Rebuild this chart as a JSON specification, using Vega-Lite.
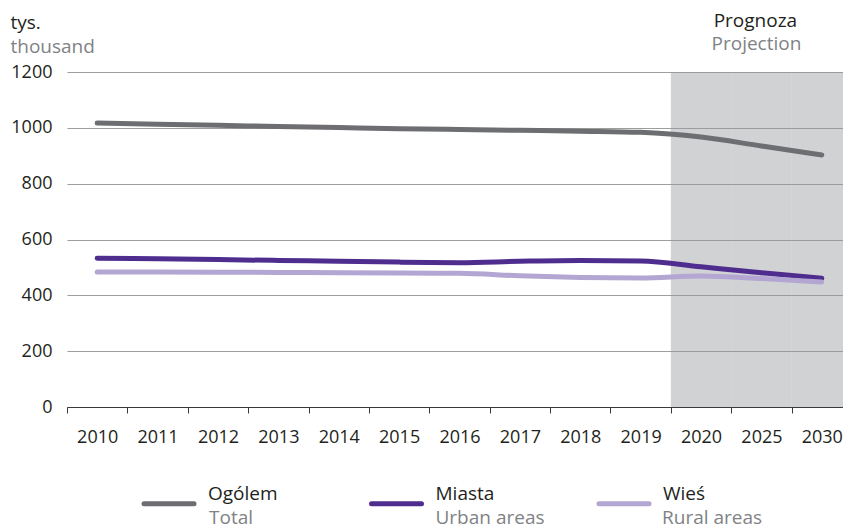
{
  "$schema": "https://vega.github.io/schema/vega-lite/v6.json",
  "width": 785,
  "height": 335,
  "autosize": {"type": "none"},
  "padding": {"left": 67, "top": 72, "right": -9, "bottom": 119},
  "background": "#ffffff",
  "config": {
    "view": {"stroke": null},
    "font": "Open Sans",
    "axisX": {
      "tickBand": "extent",
      "domainColor": "#3a3a3a",
      "tickColor": "#3a3a3a",
      "tickSize": 6,
      "labelPadding": 15,
      "labelFontSize": 18,
      "labelColor": "#231f20",
      "labelAngle": 0,
      "grid": false,
      "title": null,
      "zindex": 1
    }
  },
  "data": {
    "values": [
      {"year": "2010", "series": "Ogólem", "seriesEn": "Total", "value": 1017},
      {"year": "2011", "series": "Ogólem", "seriesEn": "Total", "value": 1013},
      {"year": "2012", "series": "Ogólem", "seriesEn": "Total", "value": 1009},
      {"year": "2013", "series": "Ogólem", "seriesEn": "Total", "value": 1005},
      {"year": "2014", "series": "Ogólem", "seriesEn": "Total", "value": 1001},
      {"year": "2015", "series": "Ogólem", "seriesEn": "Total", "value": 997},
      {"year": "2016", "series": "Ogólem", "seriesEn": "Total", "value": 994},
      {"year": "2017", "series": "Ogólem", "seriesEn": "Total", "value": 991},
      {"year": "2018", "series": "Ogólem", "seriesEn": "Total", "value": 988},
      {"year": "2019", "series": "Ogólem", "seriesEn": "Total", "value": 984},
      {"year": "2020", "series": "Ogólem", "seriesEn": "Total", "value": 967},
      {"year": "2025", "series": "Ogólem", "seriesEn": "Total", "value": 935},
      {"year": "2030", "series": "Ogólem", "seriesEn": "Total", "value": 903},
      {"year": "2010", "series": "Miasta", "seriesEn": "Urban areas", "value": 533},
      {"year": "2011", "series": "Miasta", "seriesEn": "Urban areas", "value": 531},
      {"year": "2012", "series": "Miasta", "seriesEn": "Urban areas", "value": 528},
      {"year": "2013", "series": "Miasta", "seriesEn": "Urban areas", "value": 525},
      {"year": "2014", "series": "Miasta", "seriesEn": "Urban areas", "value": 522},
      {"year": "2015", "series": "Miasta", "seriesEn": "Urban areas", "value": 519},
      {"year": "2016", "series": "Miasta", "seriesEn": "Urban areas", "value": 517},
      {"year": "2017", "series": "Miasta", "seriesEn": "Urban areas", "value": 522},
      {"year": "2018", "series": "Miasta", "seriesEn": "Urban areas", "value": 525},
      {"year": "2019", "series": "Miasta", "seriesEn": "Urban areas", "value": 523},
      {"year": "2020", "series": "Miasta", "seriesEn": "Urban areas", "value": 502},
      {"year": "2025", "series": "Miasta", "seriesEn": "Urban areas", "value": 481},
      {"year": "2030", "series": "Miasta", "seriesEn": "Urban areas", "value": 461},
      {"year": "2010", "series": "Wieś", "seriesEn": "Rural areas", "value": 484},
      {"year": "2011", "series": "Wieś", "seriesEn": "Rural areas", "value": 484},
      {"year": "2012", "series": "Wieś", "seriesEn": "Rural areas", "value": 483},
      {"year": "2013", "series": "Wieś", "seriesEn": "Rural areas", "value": 482},
      {"year": "2014", "series": "Wieś", "seriesEn": "Rural areas", "value": 481},
      {"year": "2015", "series": "Wieś", "seriesEn": "Rural areas", "value": 480},
      {"year": "2016", "series": "Wieś", "seriesEn": "Rural areas", "value": 479},
      {"year": "2017", "series": "Wieś", "seriesEn": "Rural areas", "value": 470},
      {"year": "2018", "series": "Wieś", "seriesEn": "Rural areas", "value": 464},
      {"year": "2019", "series": "Wieś", "seriesEn": "Rural areas", "value": 462},
      {"year": "2020", "series": "Wieś", "seriesEn": "Rural areas", "value": 469},
      {"year": "2025", "series": "Wieś", "seriesEn": "Rural areas", "value": 460},
      {"year": "2030", "series": "Wieś", "seriesEn": "Rural areas", "value": 448}
    ]
  },
  "layer": [
    {
      "transform": [
        {"filter": "datum.series === 'Ogólem' && (datum.year === '2020' || datum.year === '2025' || datum.year === '2030')"}
      ],
      "mark": {"type": "rect", "fill": "#999b9f", "opacity": 0.45},
      "encoding": {
        "x": {
          "field": "year",
          "type": "ordinal",
          "scale": {"type": "band", "paddingInner": 0, "paddingOuter": 0},
          "axis": {"title": null}
        },
        "y": {
          "datum": 1200,
          "type": "quantitative",
          "scale": {"domain": [0, 1200], "nice": false},
          "axis": {
            "orient": "left",
            "title": "thousand",
            "titleColor": "#808285",
            "titleAngle": 0,
            "titleAlign": "left",
            "titleBaseline": "alphabetic",
            "titleFontSize": 19,
            "titleFontWeight": "normal",
            "titleX": -57,
            "titleY": -20,
            "grid": false,
            "labels": false,
            "ticks": false,
            "domain": false
          }
        },
        "y2": {"datum": 0}
      }
    },
    {
      "mark": {"type": "line", "strokeWidth": 5, "strokeCap": "round", "strokeJoin": "round", "interpolate": "monotone"},
      "encoding": {
        "x": {"field": "year", "type": "ordinal"},
        "y": {
          "field": "value",
          "type": "quantitative",
          "axis": {
            "orient": "left",
            "title": "tys.",
            "titleColor": "#231f20",
            "titleAngle": 0,
            "titleAlign": "left",
            "titleBaseline": "alphabetic",
            "titleFontSize": 19,
            "titleFontWeight": "normal",
            "titleX": -57,
            "titleY": -44,
            "grid": true,
            "gridColor": "#9d9d9d",
            "gridWidth": 1,
            "domain": false,
            "ticks": false,
            "labels": true,
            "labelPadding": 15,
            "labelFontSize": 18,
            "labelColor": "#231f20",
            "values": [0, 200, 400, 600, 800, 1000, 1200],
            "format": "d"
          }
        },
        "color": {
          "field": "series",
          "type": "nominal",
          "scale": {"domain": ["Ogólem", "Miasta", "Wieś"], "range": ["#6d6e71", "#4f2d8f", "#b3a6d3"]},
          "legend": {
            "orient": "none",
            "legendX": 74.5,
            "legendY": 404,
            "direction": "horizontal",
            "columns": 3,
            "gridAlign": "all",
            "columnPadding": 82.5,
            "padding": 0,
            "title": null,
            "symbolType": "stroke",
            "symbolSize": 2500,
            "symbolStrokeWidth": 5,
            "labelOffset": 11.5,
            "labelFontSize": 19,
            "labelColor": "#231f20",
            "labelBaseline": "bottom",
            "encode": {"symbols": {"update": {"strokeCap": {"value": "round"}}}}
          }
        },
        "strokeWidth": {
          "field": "seriesEn",
          "type": "nominal",
          "scale": {"domain": ["Total", "Urban areas", "Rural areas"], "range": [5, 5, 5]},
          "legend": {
            "orient": "none",
            "legendX": 75.5,
            "legendY": 424,
            "direction": "horizontal",
            "columns": 3,
            "gridAlign": "all",
            "columnPadding": 50.5,
            "padding": 0,
            "title": null,
            "symbolType": "stroke",
            "symbolSize": 2500,
            "labelOffset": 11.5,
            "labelFontSize": 19,
            "labelColor": "#808285",
            "labelBaseline": "alphabetic",
            "encode": {"symbols": {"update": {"opacity": {"value": 0}}}}
          }
        }
      }
    },
    {
      "transform": [{"filter": "datum.series === 'Ogólem' && datum.year === '2025'"}],
      "layer": [
        {
          "mark": {"type": "text", "text": "Prognoza", "align": "center", "baseline": "alphabetic", "dx": -6, "dy": -45, "fontSize": 19, "fontWeight": "normal", "color": "#231f20"},
          "encoding": {
            "x": {"field": "year", "type": "ordinal"},
            "y": {"datum": 1200, "type": "quantitative", "axis": null}
          }
        },
        {
          "mark": {"type": "text", "text": "Projection", "align": "center", "baseline": "alphabetic", "dx": -5, "dy": -22, "fontSize": 19, "fontWeight": "normal", "color": "#808285"},
          "encoding": {
            "x": {"field": "year", "type": "ordinal"},
            "y": {"datum": 1200, "type": "quantitative", "axis": null}
          }
        }
      ]
    }
  ],
  "resolve": {"axis": {"y": "independent"}}
}
